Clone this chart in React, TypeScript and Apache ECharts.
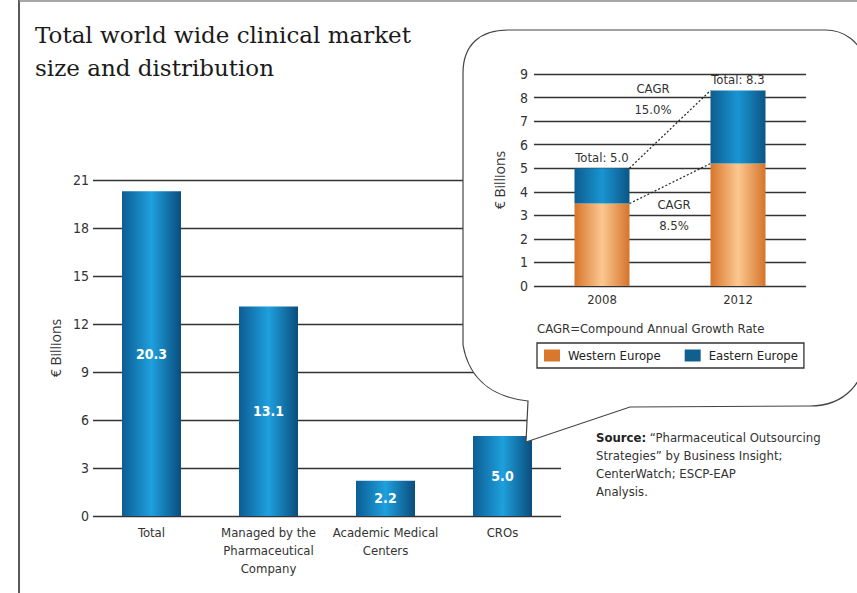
import React, { useEffect, useRef } from 'react';
import * as echarts from 'echarts';

// ---- Main chart data ----
const categories = ['Total', 'Managed by the\nPharmaceutical\nCompany', 'Academic Medical\nCenters', 'CROs'];
const marketValues = [20.3, 13.1, 2.2, 5.0];
const mainAxisMax = 21;
const mainAxisStep = 3;

// ---- Inset chart data ----
const insetYears = ['2008', '2012'];
const westernEurope = [3.5, 5.2];
const easternEurope = [1.5, 3.1];
const insetTotals = [5.0, 8.3];
const insetAxisMax = 9;
const insetAxisStep = 1;
const cagrTotal = '15.0%';
const cagrWestern = '8.5%';

const titleLines = ['Total world wide clinical market', 'size and distribution'];
const sourceLines = ['\u201CPharmaceutical Outsourcing', 'Strategies\u201D by Business Insight;', 'CenterWatch; ESCP-EAP', 'Analysis.'];

const NARROW = "'DejaVu Sans Condensed', 'Liberation Sans Narrow', sans-serif";
const SERIF = "'DejaVu Serif', 'Liberation Serif', serif";
const SANS = "'Open Sans', 'Noto Sans', sans-serif";

const BUBBLE_PATH =
  'M463 73 C463 45 480 30 508 30 L825 30 C845 30 860 42 866 62 L866 350 C866 382 845 406 810 406 L630 407 L526 442 L528 401 C500 398 470 385 463 345 Z';
echarts.graphic.registerShape('bubble', echarts.graphic.extendPath(BUBBLE_PATH, {}));

const hGrad = (edgeL: string, mid: string, edgeR: string) =>
  new echarts.graphic.LinearGradient(0, 0, 1, 0, [
    { offset: 0, color: edgeL },
    { offset: 0.5, color: mid },
    { offset: 1, color: edgeR },
  ]);

export default function App() {
  const ref = useRef<HTMLDivElement>(null);
  useEffect(() => {
    if (!ref.current) return;
    const chart = echarts.init(ref.current, undefined, { renderer: 'svg' });
    const insetBarWidth = 55;
    chart.setOption({
      animation: false,
      backgroundColor: '#fff',
      grid: [
        { left: 93, right: 296, top: 180, bottom: 77 },
        { left: 534, right: 51, top: 74, bottom: 307 },
      ],
      xAxis: [
        {
          type: 'category',
          gridIndex: 0,
          data: categories,
          axisLine: { show: false },
          axisTick: { show: false },
          axisLabel: { color: '#333', fontFamily: NARROW, fontSize: 13, lineHeight: 18, margin: 7, interval: 0 },
        },
        {
          type: 'category',
          gridIndex: 1,
          data: insetYears,
          z: 10,
          axisLine: { show: false },
          axisTick: { show: false },
          axisLabel: { color: '#333', fontFamily: NARROW, fontSize: 13, margin: 7 },
        },
      ],
      yAxis: [
        {
          type: 'value',
          gridIndex: 0,
          min: 0,
          max: mainAxisMax,
          interval: mainAxisStep,
          name: '\u20AC Billions',
          nameLocation: 'middle',
          nameGap: 28,
          nameTextStyle: { color: '#333', fontFamily: SANS, fontSize: 14 },
          axisLine: { show: false },
          axisTick: { show: false },
          axisLabel: { color: '#333', fontFamily: NARROW, fontSize: 14, margin: 4 },
          splitLine: { lineStyle: { color: '#333', width: 1.3 } },
        },
        {
          type: 'value',
          gridIndex: 1,
          min: 0,
          max: insetAxisMax,
          interval: insetAxisStep,
          z: 10,
          name: '\u20AC Billions',
          nameLocation: 'middle',
          nameGap: 28,
          nameTextStyle: { color: '#333', fontFamily: SANS, fontSize: 14 },
          axisLine: { show: false },
          axisTick: { show: false },
          axisLabel: { color: '#333', fontFamily: NARROW, fontSize: 14, margin: 6 },
          splitLine: { lineStyle: { color: '#333', width: 1.3 } },
        },
      ],
      legend: {
        left: 537,
        top: 343,
        z: 12,
        orient: 'horizontal',
        icon: 'rect',
        itemWidth: 16,
        itemHeight: 12,
        itemGap: 24,
        padding: [6, 6, 6, 7],
        borderColor: '#333',
        borderWidth: 1.3,
        textStyle: { color: '#222', fontFamily: NARROW, fontSize: 13, padding: [0, 0, 0, 3] },
        data: [
          { name: 'Western Europe', itemStyle: { color: '#d9782c' } },
          { name: 'Eastern Europe', itemStyle: { color: '#0f5f8f' } },
        ],
      },
      series: [
        {
          type: 'bar',
          name: 'Market size',
          xAxisIndex: 0,
          yAxisIndex: 0,
          data: marketValues,
          barWidth: 59,
          itemStyle: { color: hGrad('#0c5d94', '#1ea0dd', '#0a4d7d') },
          label: {
            show: true,
            position: 'inside',
            color: '#fff',
            fontFamily: NARROW,
            fontWeight: 'bold',
            fontSize: 14,
            formatter: (p: any) => p.value.toFixed(1),
          },
        },
        {
          type: 'bar',
          name: 'Western Europe',
          xAxisIndex: 1,
          yAxisIndex: 1,
          stack: 'eu',
          z: 11,
          data: westernEurope,
          barWidth: insetBarWidth,
          itemStyle: { color: hGrad('#d8752a', '#fbc891', '#d5742a') },
        },
        {
          type: 'bar',
          name: 'Eastern Europe',
          xAxisIndex: 1,
          yAxisIndex: 1,
          stack: 'eu',
          z: 11,
          data: easternEurope,
          barWidth: insetBarWidth,
          itemStyle: { color: hGrad('#0e5c8f', '#1995d2', '#0c5586') },
          label: {
            show: true,
            position: 'top',
            distance: 4,
            color: '#333',
            fontFamily: NARROW,
            fontSize: 13,
            formatter: (p: any) => 'Total: ' + insetTotals[p.dataIndex].toFixed(1),
          },
        },
      ],
    });

    const px = (i: number, v: number) =>
      chart.convertToPixel({ xAxisIndex: 1, yAxisIndex: 1 }, [i, v]) as number[];
    const tA = px(0, insetTotals[0]);
    const tB = px(1, insetTotals[1]);
    const wA = px(0, westernEurope[0]);
    const wB = px(1, westernEurope[1]);
    const half = insetBarWidth / 2;
    const midX = (tA[0] + tB[0]) / 2;

    const textStyle = (extra: any) => ({ fill: '#333', font: `13px ${NARROW}`, align: 'center', verticalAlign: 'middle', ...extra });

    chart.setOption({
      graphic: {
        elements: [
          { type: 'line', z: 20, shape: { x1: 19, y1: 0, x2: 19, y2: 593 }, style: { stroke: '#222', lineWidth: 1.5 } },
          { type: 'line', z: 20, shape: { x1: 19, y1: 1, x2: 857, y2: 1 }, style: { stroke: '#888', lineWidth: 1.5 } },
          {
            type: 'text',
            z: 20,
            left: 35,
            top: 18,
            style: { text: titleLines.join('\n'), fill: '#1a1a1a', font: `23px ${SERIF}`, lineHeight: 33 },
          },
          { type: 'bubble', z: 5, x: 0, y: 0, style: { fill: '#fff', stroke: '#444', lineWidth: 1.2 } },
          {
            type: 'line',
            z: 20,
            shape: { x1: tA[0] + half, y1: tA[1], x2: tB[0] - half, y2: tB[1] },
            style: { stroke: '#222', lineWidth: 1.2, lineDash: [2, 2] },
          },
          {
            type: 'line',
            z: 20,
            shape: { x1: wA[0] + half, y1: wA[1], x2: wB[0] - half, y2: wB[1] },
            style: { stroke: '#222', lineWidth: 1.2, lineDash: [2, 2] },
          },
          { type: 'text', z: 20, x: midX - 17, y: 99, style: textStyle({ text: 'CAGR\n' + cagrTotal, lineHeight: 21 }) },
          { type: 'text', z: 20, x: midX + 4, y: 215, style: textStyle({ text: 'CAGR\n' + cagrWestern, lineHeight: 21 }) },
          {
            type: 'text',
            z: 20,
            x: 537,
            y: 328,
            style: { text: 'CAGR=Compound Annual Growth Rate', fill: '#333', font: `13px ${NARROW}`, verticalAlign: 'middle' },
          },
          {
            type: 'text',
            z: 20,
            x: 596,
            y: 428,
            style: {
              text: '{b|Source:} ' + sourceLines.join('\n'),
              fill: '#333',
              font: `13px ${NARROW}`,
              lineHeight: 18,
              rich: { b: { fontWeight: 'bold', fontFamily: NARROW, fontSize: 13, fill: '#222', lineHeight: 18 } },
            },
          },
        ],
      },
    });

    return () => chart.dispose();
  }, []);
  return <div ref={ref} style={{ position: 'absolute', left: 0, top: 0, width: 857, height: 593 }} />;
}
